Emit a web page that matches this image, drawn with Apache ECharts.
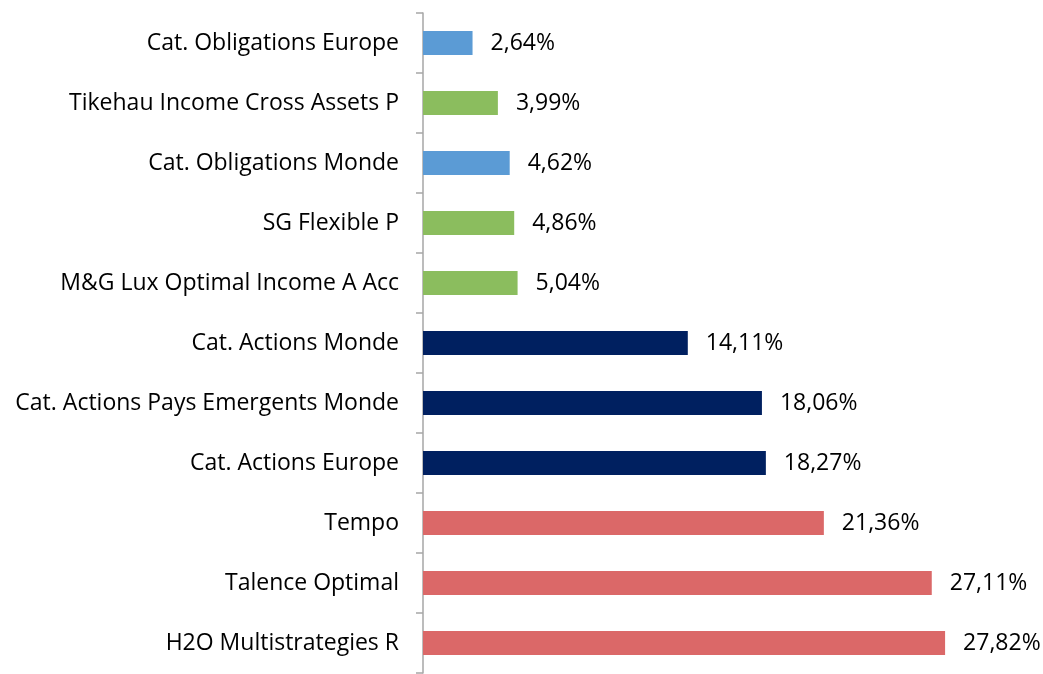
<!DOCTYPE html>
<html>
<head>
<meta charset="utf-8">
<script src="https://cdn.jsdelivr.net/npm/echarts@6/dist/echarts.min.js"></script>
<style>html,body{margin:0;padding:0;background:#fff;}#c{width:1043px;height:674px;}</style>
</head>
<body>
<div id="c"></div>
<script>
const categories = [
  "Cat. Obligations Europe",
  "Tikehau Income Cross Assets P",
  "Cat. Obligations Monde",
  "SG Flexible P",
  "M&G Lux Optimal Income A Acc",
  "Cat. Actions Monde",
  "Cat. Actions Pays Emergents Monde",
  "Cat. Actions Europe",
  "Tempo",
  "Talence Optimal",
  "H2O Multistrategies R"
];
const values = [2.64, 3.99, 4.62, 4.86, 5.04, 14.11, 18.06, 18.27, 21.36, 27.11, 27.82];
const groups = ["bond", "fund", "bond", "fund", "fund", "equity", "equity", "equity", "target", "target", "target"];
const groupColors = { bond: "#5B9BD5", fund: "#8BBD5E", equity: "#002060", target: "#DB6868" };

const chart = echarts.init(document.getElementById('c'));
chart.setOption({
  animation: false,
  grid: { left: 423, right: 57, top: 13, bottom: 1, containLabel: false },
  xAxis: { type: 'value', min: 0, max: 30, show: false },
  yAxis: {
    type: 'category',
    data: categories,
    inverse: true,
    axisLine: { show: true, lineStyle: { color: '#A6A6A6', width: 1.5 } },
    axisTick: { show: true, length: 7, lineStyle: { color: '#A6A6A6', width: 1.5 } },
    axisLabel: { color: '#000', fontFamily: 'Open Sans', fontSize: 23, letterSpacing: 0.5, margin: 24, padding: [4, 0, 0, 0] },
    splitLine: { show: false }
  },
  series: [{
    type: 'bar',
    data: values.map((v, i) => ({ value: v, itemStyle: { color: groupColors[groups[i]] } })),
    barCategoryGap: '60%',
    label: {
      show: true, position: 'right', distance: 18, color: '#000',
      fontFamily: 'Open Sans', fontSize: 23, letterSpacing: 0.5,
      padding: [5, 0, 0, 0],
      formatter: p => p.value.toFixed(2).replace('.', ',') + '%'
    }
  }]
});
</script>
</body>
</html>
